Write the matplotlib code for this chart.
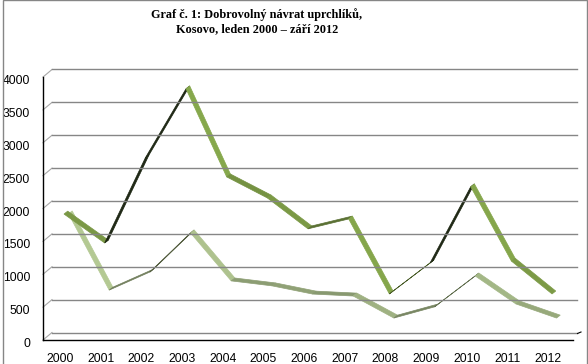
import numpy as np
import matplotlib.pyplot as plt
from matplotlib.patches import Polygon, Rectangle

plt.rcParams['font.family'] = ['Liberation Sans', 'DejaVu Sans']

# data
years = ['2000', '2001', '2002', '2003', '2004', '2005', '2006',
         '2007', '2008', '2009', '2010', '2011', '2012']
series_dark = [1870, 1430, 2725, 3775, 2435, 2115, 1645, 1795, 655, 1125, 2285, 1155, 655]
series_light = [1820, 660, 935, 1530, 800, 725, 600, 570, 235, 405, 875, 450, 235]
yticks = [0, 500, 1000, 1500, 2000, 2500, 3000, 3500, 4000]
title1 = 'Graf č. 1: Dobrovolný návrat uprchlíků,'
title2 = 'Kosovo, leden 2000 – září 2012'

W, H = 588, 364
fig = plt.figure(figsize=(W / 100, H / 100), dpi=100)
ax = fig.add_axes([43 / W, 24 / H, 530 / W, 263 / H])
x = np.arange(len(years))
step = 40.67
ax.set_xlim((43 - 60) / step, (573 - 60) / step)
ax.set_ylim(0, 4000)
xl, xr = ax.get_xlim()

# pixels per data unit
px_x = ax.bbox.width / (xr - xl)
px_y = ax.bbox.height / 4000.0

for s in ['top', 'right']:
    ax.spines[s].set_visible(False)
for s in ['left', 'bottom']:
    ax.spines[s].set_color('black')
    ax.spines[s].set_linewidth(1.0)
ax.set_xticks([])
ax.set_yticks([])

# back wall gridlines with the slanted floor/wall edge
dep_x, dep_y = 9 / px_x, 7.5 / px_y
x_back_end = (577 - 60) / step
for v in yticks:
    ax.plot([xl, xl + dep_x], [v, v + dep_y], color='#a8a8a8', lw=0.8, clip_on=False)
    ax.plot([xl + dep_x, x_back_end], [v + dep_y, v + dep_y], color='#868686', lw=1.0,
            clip_on=False)
    ax.text(xl - 13 / px_x, v - 4 / px_y, str(v), ha='right', va='center', fontsize=8.7)

# little edge mark at the right end of the floor
ax.plot([x_back_end + 0.5 / px_x, x_back_end + 4 / px_x], [6.5 / px_y, 8 / px_y],
        color='black', lw=0.8, clip_on=False)

for i, yr in enumerate(years):
    ax.text(x[i], -12.5 / px_y, yr, ha='center', va='top', fontsize=8.7, clip_on=False)


def ribbon(values, front, base, under):
    fx, fy = front[0] / px_x, front[1] / px_y
    rx, ry = 3.7, 2.9
    for i in range(len(values) - 1):
        x0, y0 = x[i] + fx, values[i] + fy
        x1, y1 = x[i + 1] + fx, values[i + 1] + fy
        ux, uy = (x1 - x0) * px_x, (y1 - y0) * px_y
        cross = ux * ry - uy * rx
        if cross > 0:
            ang = np.arctan2(-uy, ux)
            shade = 0.72 + 0.28 * np.sin(ang)
            col = tuple(np.clip(np.array(base) / 255 * shade, 0, 1))
        else:
            col = under
        pts = [(x0, y0), (x1, y1), (x1 + rx / px_x, y1 + ry / px_y),
               (x0 + rx / px_x, y0 + ry / px_y)]
        ax.add_patch(Polygon(pts, closed=True, fc=col, ec=col, lw=0.5, clip_on=False))


ribbon(series_light, (8.5, 6.5), (186, 208, 152), '#525c3e')
ribbon(series_dark, (4, 3), (138, 172, 78), '#1e2714')

fig.text(257 / W, 1 - 15 / H, title1, ha='center', va='center', fontsize=8.8,
         fontweight='bold', family='Liberation Serif')
fig.text(257 / W, 1 - 29 / H, title2, ha='center', va='center', fontsize=8.8,
         fontweight='bold', family='Liberation Serif')

fig.patches.append(Rectangle((2.5 / W, -0.1), 584 / W, 1.1 - 0.5 / H,
                             transform=fig.transFigure, fill=False,
                             ec='#868686', lw=1.0))

fig.savefig('out.png', dpi=100)
